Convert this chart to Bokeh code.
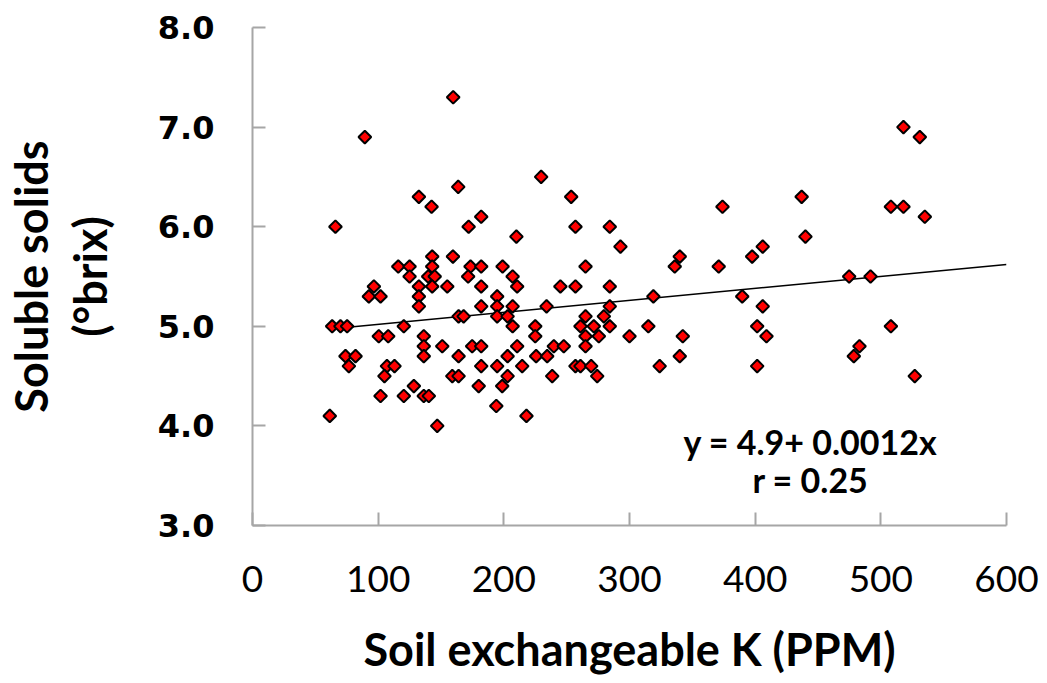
import math
from bokeh.plotting import figure
from bokeh.models import Range1d, FixedTicker, PrintfTickFormatter, Label, ColumnDataSource, LinearAxis
from bokeh.embed import file_html
from bokeh.resources import INLINE

# Data: soil exchangeable K (ppm) vs soluble solids (°brix)
soil_k = [61.5, 66, 63.4, 70, 75.3, 74, 82, 76.7, 89.4, 96.6, 92.6,
          101.9, 100.5, 108, 107, 113, 105, 101.9, 116, 125, 125, 120.4, 128.4, 120.4,
          132.4, 142.5, 132.4, 132.4, 132.4, 143, 143, 139.8, 145, 143, 136.3, 136.3, 136.3, 136.3, 140.3, 147, 151, 155, 159.5, 159.7, 159,
          163.7, 164, 168, 164, 164, 172, 173.5, 171.6, 174.8, 182, 182, 182, 182, 182, 182, 180, 194.7, 194.7, 194.7, 194.7, 194, 199, 198.7,
          207, 203, 207, 207, 210, 210.6, 210.6, 203, 203, 214.6, 218, 225, 225, 225.7, 229.7, 234, 234.5, 239.8, 238.5, 245, 247.7,
          253.6, 257, 257, 257, 261, 261, 265, 265, 265, 265, 269.5, 271.6, 274.3, 275.6, 279.6, 284.3, 284.3, 284.3, 284.3, 292.8,
          300, 315, 319, 324, 336, 340, 340, 342.4, 371, 374, 389.7, 397.6, 401.6, 401.6, 406, 406, 409, 437, 440, 474.8, 478.5, 483, 491.8, 508, 508, 518, 518, 527, 531, 535]
brix = [4.1, 6.0, 5.0, 5.0, 5.0, 4.7, 4.7, 4.6, 6.9, 5.4, 5.3,
        5.3, 4.9, 4.9, 4.6, 4.6, 4.5, 4.3, 5.6, 5.6, 5.5, 5.0, 4.4, 4.3,
        6.3, 6.2, 5.4, 5.3, 5.2, 5.7, 5.6, 5.5, 5.5, 5.4, 4.9, 4.8, 4.7, 4.3, 4.3, 4.0, 4.8, 5.4, 5.7, 7.3, 4.5,
        6.4, 5.1, 5.1, 4.7, 4.5, 6.0, 5.6, 5.5, 4.8, 6.1, 5.6, 5.4, 5.2, 4.8, 4.6, 4.4, 5.3, 5.2, 5.1, 4.6, 4.2, 5.6, 4.4,
        5.5, 5.1, 5.2, 5.0, 5.9, 5.4, 4.8, 4.7, 4.5, 4.6, 4.1, 5.0, 4.9, 4.7, 6.5, 5.2, 4.7, 4.8, 4.5, 5.4, 4.8,
        6.3, 6.0, 5.4, 4.6, 5.0, 4.6, 5.6, 5.1, 4.9, 4.8, 4.6, 5.0, 4.5, 4.9, 5.1, 6.0, 5.4, 5.2, 5.0, 5.8,
        4.9, 5.0, 5.3, 4.6, 5.6, 5.7, 4.7, 4.9, 5.6, 6.2, 5.3, 5.7, 5.0, 4.6, 5.8, 5.2, 4.9, 6.3, 5.9, 5.5, 4.7, 4.8, 5.5, 6.2, 5.0, 7.0, 6.2, 4.5, 6.9, 6.1]

# Fitted regression line
intercept = 4.9
slope = 0.0012
r_value = 0.25

x_ticks = [0, 100, 200, 300, 400, 500, 600]
y_ticks = [3, 4, 5, 6, 7, 8]

GRAY = "#A6A6A6"
TITLE_FONT = "Lato"
TITLE_SIZE = "45px"

p = figure(width=1047, height=683, output_backend="svg", toolbar_location=None,
           x_range=Range1d(0, 600), y_range=Range1d(3, 8),
           min_border_left=252, min_border_right=41, min_border_top=27, min_border_bottom=158)
p.outline_line_color = None
p.xgrid.grid_line_color = None
p.ygrid.grid_line_color = None
p.background_fill_color = "white"
p.border_fill_color = "white"

for ax in (p.xaxis[0], p.yaxis[0]):
    ax.axis_line_color = GRAY
    ax.axis_line_width = 2
    ax.major_tick_line_color = GRAY
    ax.major_tick_line_width = 2
    ax.major_tick_out = 0
    ax.major_tick_in = 13
    ax.minor_tick_line_color = None
    ax.major_label_text_color = "black"
    ax.axis_label_text_font = TITLE_FONT
    ax.axis_label_text_font_style = "bold"
    ax.axis_label_text_font_size = TITLE_SIZE
    ax.axis_label_text_color = "black"

p.xaxis.ticker = FixedTicker(ticks=x_ticks)
p.yaxis.ticker = FixedTicker(ticks=y_ticks)
p.yaxis.formatter = PrintfTickFormatter(format="%.1f")
p.xaxis.major_label_text_font = "Lato"
p.xaxis.major_label_text_font_size = "37px"
p.xaxis.major_label_standoff = 40
p.xaxis.axis_label = "Soil exchangeable K (PPM)"
p.xaxis.axis_label_standoff = 27
p.yaxis.major_label_text_font = "DejaVu Sans"
p.yaxis.major_label_text_font_style = "bold"
p.yaxis.major_label_text_font_size = "32px"
p.yaxis.major_label_standoff = 38
p.yaxis.axis_label = "(°brix)"
p.yaxis.axis_label_standoff = 38

# outer axis carrying only the first line of the y title
outer = LinearAxis(ticker=FixedTicker(ticks=[]), axis_line_color=None,
                   major_tick_line_color=None, minor_tick_line_color=None,
                   major_label_text_font_size="0px", major_label_standoff=0,
                   axis_label="Soluble solids", axis_label_standoff=2,
                   axis_label_text_font=TITLE_FONT, axis_label_text_font_style="bold",
                   axis_label_text_font_size=TITLE_SIZE, axis_label_text_color="black")
p.add_layout(outer, "left")

# regression line
lx = [min(soil_k), 600]
ly = [intercept + slope * v for v in lx]
p.line(lx, ly, line_color="black", line_width=1.5)

src = ColumnDataSource(dict(x=soil_k, y=brix))
p.scatter("x", "y", source=src, marker="square", size=9, angle=math.pi / 4,
          fill_color="#FF0000", line_color="black", line_width=2)

p.add_layout(Label(x=444, y=3.843, text=f"y = {intercept}+ {slope}x", text_font="Lato",
                   text_font_style="bold", text_font_size="34px", text_align="center",
                   text_baseline="middle", text_color="black"))
p.add_layout(Label(x=444, y=3.462, text=f"r = {r_value}", text_font="Lato",
                   text_font_style="bold", text_font_size="34px", text_align="center",
                   text_baseline="middle", text_color="black"))

open("out.html", "w").write(file_html(p, INLINE))
